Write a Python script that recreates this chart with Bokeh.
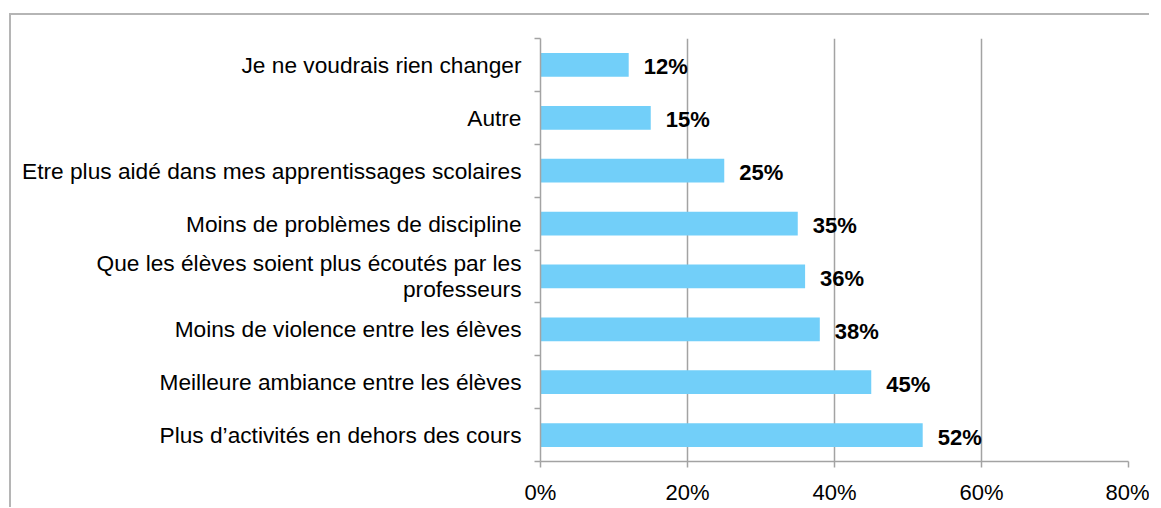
from bokeh.plotting import figure
from bokeh.models import Range1d, LinearAxis, FixedTicker, ColumnDataSource
from bokeh.core.properties import value
from bokeh.embed import file_html
from bokeh.resources import INLINE

categories = [
    "Plus d’activités en dehors des cours",
    "Meilleure ambiance entre les élèves",
    "Moins de violence entre les élèves",
    "Que les élèves soient plus écoutés par les\nprofesseurs",
    "Moins de problèmes de discipline",
    "Etre plus aidé dans mes apprentissages scolaires",
    "Autre",
    "Je ne voudrais rien changer",
]
values = [52, 45, 38, 36, 35, 25, 15, 12]
labels = [f"{v}%" for v in values]
x_ticks = [0, 20, 40, 60, 80]

FONT = "Liberation Sans"
GRAY = "#a3a3a3"
FS = "22.7px"

n = len(categories)
centres = [i + 0.5 for i in range(n)]
src = ColumnDataSource(dict(y=centres, val=values, lab=labels))

p = figure(frame_width=588, frame_height=423, output_backend="svg", toolbar_location=None,
           x_range=Range1d(0, 80), y_range=Range1d(0, n),
           y_axis_type=None, min_border_left=529, min_border_right=21,
           min_border_top=23, min_border_bottom=39)
p.outline_line_color = None
p.styles = {"border-top": "2px solid #b5b5b5", "border-left": "2px solid #b5b5b5",
            "margin-top": "13px", "margin-left": "9px"}

p.hbar(y="y", right="val", left=0, height=0.45, source=src,
       fill_color="#72cff9", line_color=None)
p.text(x="val", y="y", text="lab", source=src, x_offset=15, y_offset=2,
       text_font=value(FONT), text_font_style="bold", text_font_size="22px",
       text_baseline="middle", text_align="left", text_color="black")

# x axis
xa = p.xaxis[0]
xa.ticker = FixedTicker(ticks=x_ticks, minor_ticks=[])
xa.major_label_overrides = {t: f"{t}%" for t in x_ticks}
xa.major_label_text_font = FONT
xa.major_label_text_font_size = "22px"
xa.major_label_text_color = "black"
xa.axis_line_color = GRAY
xa.axis_line_width = 1.5
xa.major_tick_line_color = GRAY
xa.major_tick_line_width = 1.5
xa.major_tick_in = 0
xa.major_tick_out = 6
xa.major_label_standoff = 12

# y axis: labels at band centres, ticks at band boundaries
ya = LinearAxis(ticker=FixedTicker(ticks=centres, minor_ticks=list(range(n + 1))))
ya.major_label_overrides = {c: cat for c, cat in zip(centres, categories)}
ya.major_label_text_font = FONT
ya.major_label_text_font_size = FS
ya.major_label_text_color = "black"
ya.major_label_text_line_height = 1.0
ya.major_tick_line_color = None
ya.major_tick_in = 0
ya.major_tick_out = 0
ya.minor_tick_line_color = GRAY
ya.minor_tick_line_width = 1.5
ya.minor_tick_in = 0
ya.minor_tick_out = 6
ya.axis_line_color = GRAY
ya.axis_line_width = 1.5
ya.major_label_standoff = 13
p.add_layout(ya, "left")

p.xgrid.ticker = FixedTicker(ticks=x_ticks)
p.xgrid.grid_line_color = GRAY
p.xgrid.grid_line_width = 1.5
p.ygrid.grid_line_color = None

open("out.html", "w").write(file_html(p, INLINE))
